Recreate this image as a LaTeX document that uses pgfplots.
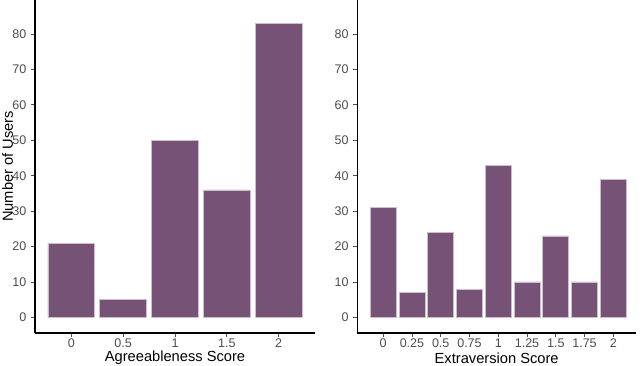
\documentclass[border=0pt]{standalone}
\usepackage{fontspec}
\setmainfont{Liberation Sans}
\usepackage{pgfplots}
\pgfplotsset{compat=1.18}

\definecolor{barfill}{RGB}{119,82,119}
\definecolor{baredge}{RGB}{205,190,205}
\definecolor{tickgray}{RGB}{77,77,77}

\pgfplotsset{
  scorepanel/.style={
    scale only axis,
    height=249.75pt,
    ymin=-4.4, ymax=89.6,
    ytick={0,10,...,80},
    axis x line*=bottom, axis y line*=left,
    axis line style={black, line width=0.9pt, -},
    tick align=outside,
    major tick length=3pt,
    tick style={tickgray, line width=0.6pt},
    ticklabel style={font=\fontsize{9.4}{10}\selectfont, text=tickgray},
    xticklabel style={yshift=2pt},
    /pgf/number format/assume math mode=true,
    xtick=data,
    ybar, bar width=0.9, bar shift=0pt,
    label style={font=\fontsize{11}{12}\selectfont},
    clip=false,
  },
  scorebar/.style={fill=barfill, draw=baredge, line width=0.5pt},
}

\begin{document}
\begin{tikzpicture}
\path[use as bounding box] (0,0) rectangle (480pt,274.5pt);

\begin{axis}[
  scorepanel,
  at={(26.25pt,24.75pt)}, anchor=south west,
  width=210pt,
  xmin=-0.7, xmax=4.7,
  xticklabels={0,0.5,1,1.5,2},
  xlabel={Agreeableness Score},
  ylabel={Number of Users},
  xlabel style={at={(axis description cs:0.5,-0.075)}, anchor=center},
  ylabel style={at={(axis description cs:-0.098,0.5)}, anchor=center},
]
\addplot[scorebar] coordinates {(0,21) (1,5) (2,50) (3,36) (4,83)};
\end{axis}

\begin{axis}[
  scorepanel,
  at={(268pt,24.75pt)}, anchor=south west,
  width=209pt,
  xmin=-0.9, xmax=8.79,
  xticklabels={0,0.25,0.5,0.75,1,1.25,1.5,1.75,2},
  xlabel={Extraversion Score},
  xlabel style={at={(axis description cs:0.5,-0.075)}, anchor=center},
]
\addplot[scorebar] coordinates {(0,31) (1,7) (2,24) (3,8) (4,43) (5,10) (6,23) (7,10) (8,39)};
\end{axis}
\end{tikzpicture}
\end{document}
